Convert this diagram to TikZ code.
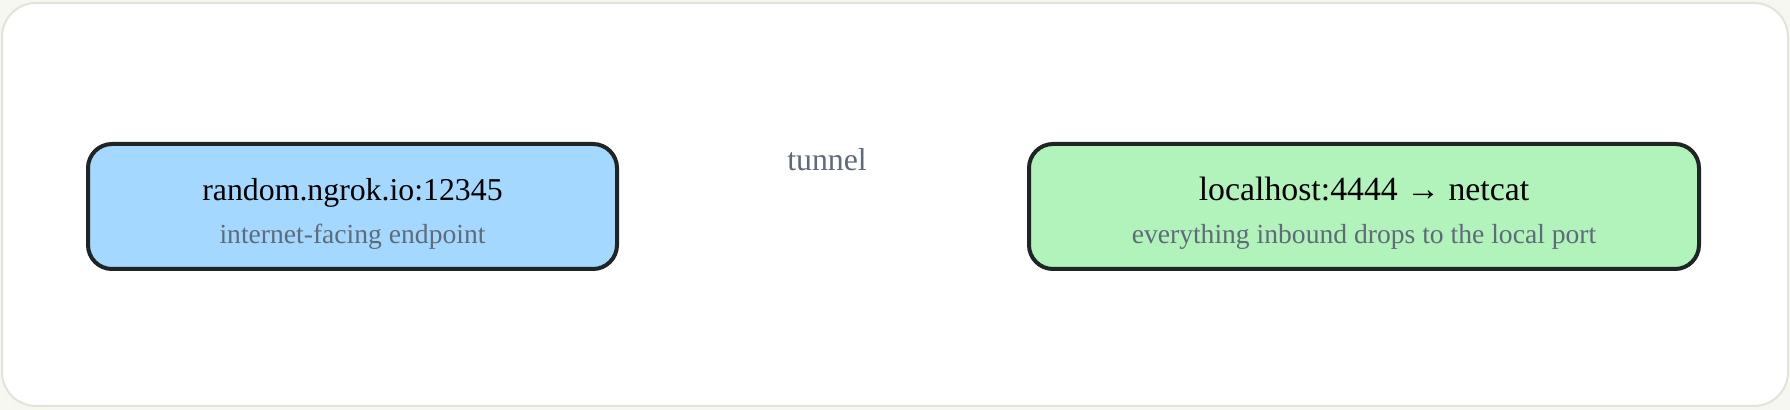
\documentclass[tikz,border=0pt]{standalone}
\usepackage{fontspec}
\setmainfont{Liberation Serif}
\usetikzlibrary{calc}

\definecolor{pagebg}{HTML}{F7F7F2}
\definecolor{framecol}{HTML}{E3E3DA}
\definecolor{inkcol}{HTML}{1E2524}
\definecolor{pubfill}{HTML}{A5D8FF}
\definecolor{locfill}{HTML}{B2F2BB}
\definecolor{mutedcol}{HTML}{5F6B7A}

\begin{document}
\begin{tikzpicture}[x=0.5pt, y=-0.5pt]
	\tikzset{
		box/.style = {draw=inkcol, line width=2pt, rounded corners=12pt, minimum height=62.5pt, inner sep=0pt},
		title/.style = {font={\fontsize{15.9}{19}\selectfont}, text=black, anchor=base, inner sep=0pt},
		subtitle/.style = {font={\fontsize{13.8}{16}\selectfont}, text=mutedcol, anchor=base, inner sep=0pt},
		edgelabel/.style = {font={\fontsize{15.9}{19}\selectfont}, text=mutedcol, anchor=base, inner sep=0pt},
	}

	% page and frame
	\fill[pagebg] (0,0) rectangle (1790,410);
	\draw[framecol, line width=1pt, fill=white, rounded corners=17pt] (2,3) rectangle (1788,406);
	\useasboundingbox (0,0) rectangle (1790,410);

	% the two ends of the tunnel
	\node[box, fill=pubfill, minimum width=264.5pt] (pub) at (352.5,206.5) {};
	\node[box, fill=locfill, minimum width=335pt] (loc) at (1364,206.5) {};

	\node[title] (pub-title) at ($(pub.center)+(0,-5.5)$) {random.ngrok.io:12345};
	\node[subtitle] (pub-sub) at ($(pub.center)+(0,37)$) {internet-facing endpoint};

	\node[title, font={\fontsize{16.9}{20}\selectfont}] (loc-title) at ($(loc.center)+(0,-5.5)$) {localhost:4444 → netcat};
	\node[subtitle] (loc-sub) at ($(loc.center)+(0,37.5)$) {everything inbound drops to the local port};

	\node[edgelabel] (tunnel) at ($(pub.east)!0.5!(loc.west)+(4,-36)$) {tunnel};

\end{tikzpicture}
\end{document}
